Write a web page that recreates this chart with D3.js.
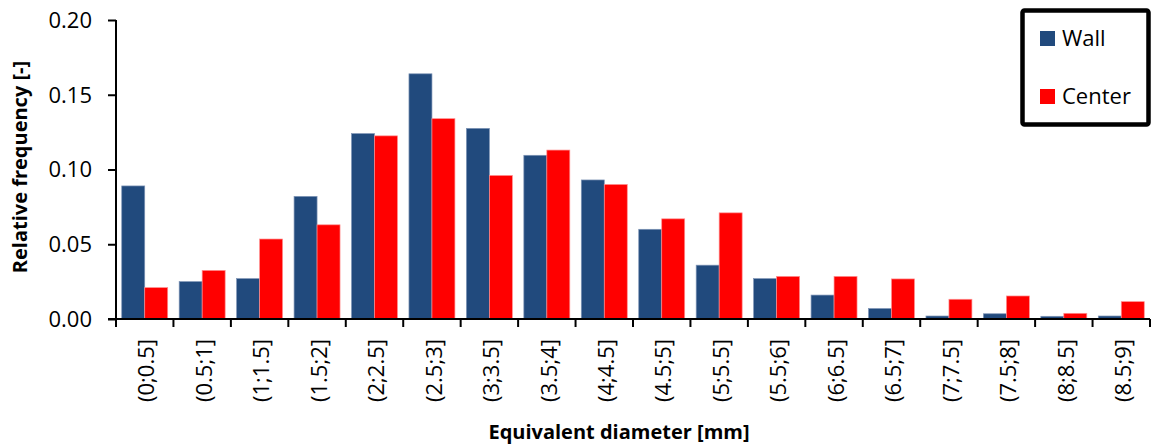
<!doctype html>
<html lang="en">
   <head>
      <meta charset="utf-8">
      <title>Equivalent diameter distribution</title>
      <script src="https://cdn.jsdelivr.net/npm/d3@7"></script>
      <style>
         body { margin: 0; background: #fff; }
         text { font-family: "Open Sans", sans-serif; fill: #000; }
         .tick-y { font-size: 22px; text-anchor: end; }
         .tick-x { font-size: 22px; text-anchor: end; }
         .title { font-size: 20px; font-weight: bold; text-anchor: middle; }
         .legend-text { font-size: 22px; }
      </style>
   </head>
   <body>
      <svg style="width:1151px;height:447px;display:block"></svg>
      <script>
         var categories = ["(0;0.5]", "(0.5;1]", "(1;1.5]", "(1.5;2]", "(2;2.5]", "(2.5;3]",
           "(3;3.5]", "(3.5;4]", "(4;4.5]", "(4.5;5]", "(5;5.5]", "(5.5;6]",
           "(6;6.5]", "(6.5;7]", "(7;7.5]", "(7.5;8]", "(8;8.5]", "(8.5;9]"];
         var wall = [0.089, 0.025, 0.027, 0.082, 0.124, 0.164, 0.1275, 0.1095, 0.093,
           0.060, 0.036, 0.027, 0.016, 0.007, 0.002, 0.0035, 0.0018, 0.002];
         var center = [0.021, 0.0325, 0.0535, 0.063, 0.1225, 0.134, 0.096, 0.113, 0.090,
           0.067, 0.071, 0.0285, 0.0285, 0.0268, 0.0132, 0.0154, 0.0038, 0.0116];
         var seriesNames = ["Wall", "Center"];
         var seriesColors = ["#214A7D", "#FF0000"];
         var seriesEdges = ["#7d93b5", "#ff8f8f"];
         var yTicks = [0, 0.05, 0.10, 0.15, 0.20];

         function drawChart() {
           var svg = d3.select("svg");
           var plotLeft = 116, plotRight = 1150, plotTop = 20, plotBottom = 319;

           var x0 = d3.scaleBand().domain(categories).range([plotLeft, plotRight]);
           var x1 = d3.scaleBand().domain(seriesNames)
             .range([x0.step() * 0.1, x0.step() * 0.9]);
           var y = d3.scaleLinear().domain([0, 0.2]).range([plotBottom, plotTop]);

           var rows = categories.map((c, i) => ({ cat: c, vals: [wall[i], center[i]] }));

           // bars
           var groups = svg.append("g").selectAll("g")
             .data(rows)
             .enter().append("g")
               .attr("transform", d => "translate(" + x0(d.cat) + ",0)");
           groups.selectAll("rect")
             .data(d => d.vals.map((v, k) => ({ name: seriesNames[k], k: k, v: v })))
             .enter().append("rect")
               .attr("x", d => x1(d.name))
               .attr("width", x1.bandwidth())
               .attr("y", d => y(d.v))
               .attr("height", d => plotBottom - y(d.v))
               .style("fill", d => seriesColors[d.k])
               .style("stroke", d => seriesEdges[d.k])
               .style("stroke-width", "0.7px");

           // y axis
           var yAxis = d3.axisLeft(y).tickValues(yTicks).tickSize(8)
             .tickFormat(d3.format(".2f"));
           var gy = svg.append("g").attr("transform", "translate(" + plotLeft + ",0)").call(yAxis);
           gy.attr("font-size", null).attr("font-family", null);
           gy.select(".domain").attr("d", "M0," + plotTop + "V" + plotBottom)
             .style("stroke", "#000").style("stroke-width", "2px");
           gy.selectAll(".tick line").style("stroke", "#000").style("stroke-width", "2px");
           gy.selectAll(".tick text").attr("class", "tick-y")
             .attr("x", -24).attr("dy", "0.33em");

           // x axis: ticks on the band boundaries
           var boundaries = categories.map(c => x0(c)).concat([plotRight]);
           var gx = svg.append("g");
           gx.append("line")
             .attr("x1", plotLeft - 8).attr("x2", plotRight)
             .attr("y1", plotBottom).attr("y2", plotBottom)
             .style("stroke", "#000").style("stroke-width", "2px");
           gx.selectAll("line.tk")
             .data(boundaries)
             .enter().append("line")
               .attr("class", "tk")
               .attr("x1", d => d).attr("x2", d => d)
               .attr("y1", plotBottom).attr("y2", plotBottom + 8)
               .style("stroke", "#000").style("stroke-width", "2px");
           gx.selectAll("text")
             .data(categories)
             .enter().append("text")
               .attr("class", "tick-x")
               .attr("transform", d => "translate(" + (x0(d) + x0.step() / 2 + 2) + "," + (plotBottom + 20) + ") rotate(-90)")
               .attr("dy", "0.35em")
               .text(d => d);

           // axis titles
           svg.append("text").attr("class", "title")
             .attr("x", 619).attr("y", 439)
             .text("Equivalent diameter [mm]");
           svg.append("text").attr("class", "title")
             .attr("transform", "translate(27,167) rotate(-90)")
             .text("Relative frequency [-]");

           // legend
           var lg = svg.append("g");
           lg.append("rect")
             .attr("x", 1022.5).attr("y", 10.5).attr("width", 126).attr("height", 114)
             .attr("rx", 2)
             .style("fill", "#fff").style("stroke", "#000").style("stroke-width", "4.5px");
           var items = lg.selectAll("g.item")
             .data(seriesNames)
             .enter().append("g")
               .attr("transform", (d, i) => "translate(1040," + (31 + i * 58) + ")");
           items.append("rect")
             .attr("width", 15).attr("height", 15)
             .style("fill", (d, i) => seriesColors[i]);
           items.append("text").attr("class", "legend-text")
             .attr("x", 22).attr("y", 15)
             .text(d => d);
         }
         drawChart();
      </script>
   </body>
</html>
